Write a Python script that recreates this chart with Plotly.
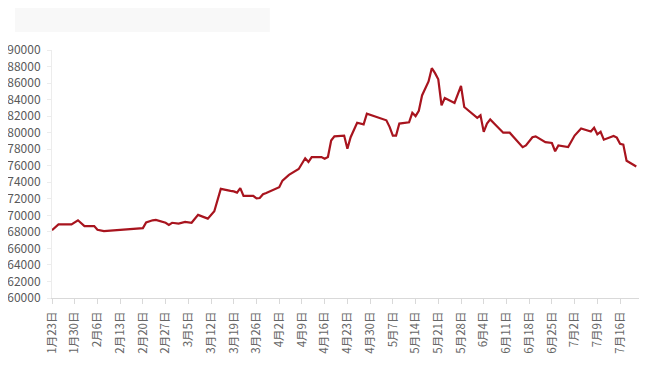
import plotly.graph_objects as go

dates = [
    "2024-01-23", "2024-01-25", "2024-01-29", "2024-01-31", "2024-02-02", "2024-02-05",
    "2024-02-06", "2024-02-08", "2024-02-20", "2024-02-21", "2024-02-23", "2024-02-24",
    "2024-02-27", "2024-02-28", "2024-02-29", "2024-03-02", "2024-03-04", "2024-03-06",
    "2024-03-08", "2024-03-11", "2024-03-13", "2024-03-15", "2024-03-18", "2024-03-19",
    "2024-03-20", "2024-03-21", "2024-03-22", "2024-03-25", "2024-03-26", "2024-03-27",
    "2024-03-28", "2024-03-29", "2024-04-02", "2024-04-03", "2024-04-05", "2024-04-08",
    "2024-04-10", "2024-04-11", "2024-04-12", "2024-04-15", "2024-04-16", "2024-04-17",
    "2024-04-18", "2024-04-19", "2024-04-22", "2024-04-23", "2024-04-24", "2024-04-26",
    "2024-04-28", "2024-04-29", "2024-05-05", "2024-05-06", "2024-05-07", "2024-05-08",
    "2024-05-09", "2024-05-12", "2024-05-13", "2024-05-14", "2024-05-15", "2024-05-16",
    "2024-05-18", "2024-05-19", "2024-05-20", "2024-05-21", "2024-05-22", "2024-05-23",
    "2024-05-26", "2024-05-28", "2024-05-29", "2024-06-02", "2024-06-03", "2024-06-04",
    "2024-06-05", "2024-06-06", "2024-06-10", "2024-06-12", "2024-06-16", "2024-06-17",
    "2024-06-19", "2024-06-20", "2024-06-23", "2024-06-25", "2024-06-26", "2024-06-27",
    "2024-06-30", "2024-07-02", "2024-07-04", "2024-07-07", "2024-07-08", "2024-07-09",
    "2024-07-10", "2024-07-11", "2024-07-14", "2024-07-15", "2024-07-16", "2024-07-17",
    "2024-07-18", "2024-07-21",
]

values = [
    68200, 68900, 68900, 69400, 68700, 68700,
    68250, 68100, 68450, 69150, 69400, 69450,
    69100, 68850, 69100, 69000, 69200, 69100,
    70050, 69600, 70500, 73200, 72950, 72900,
    72750, 73300, 72350, 72350, 72050, 72100,
    72550, 72700, 73400, 74200, 74900, 75600,
    76900, 76450, 77050, 77050, 76850, 77050,
    79050, 79550, 79650, 78050, 79450, 81200,
    81000, 82300, 81500, 80700, 79650, 79650,
    81100, 81250, 82400, 82000, 82650, 84500,
    86200, 87800, 87200, 86450, 83300, 84200,
    83600, 85650, 83100, 81800, 82100, 80100,
    81100, 81600, 80000, 80000, 78250, 78450,
    79450, 79550, 78850, 78750, 77750, 78450,
    78250, 79650, 80500, 80150, 80600, 79800,
    80100, 79150, 79600, 79400, 78650, 78550,
    76600, 75900,
]

y_ticks = list(range(60000, 90001, 2000))

fig = go.Figure()
fig.add_trace(go.Scatter(
    x=dates, y=values, mode="lines",
    line=dict(color="#A8141E", width=2.2),
    hoverinfo="x+y", showlegend=False,
))

fig.add_shape(type="rect", xref="paper", yref="paper",
              x0=-0.063, x1=0.371, y0=1.073, y1=1.169,
              fillcolor="#f8f8f8", line=dict(width=0), layer="below")

fig.update_layout(
    width=640, height=350,
    margin=dict(l=44, r=9, t=42, b=60),
    paper_bgcolor="white", plot_bgcolor="white",
    font=dict(family="Noto Sans CJK SC, sans-serif", color="#595959"),
)

fig.update_xaxes(
    type="date", automargin=False,
    range=["2024-01-23", "2024-07-21 20:00"],
    tick0="2024-01-23", dtick=7 * 86400000,
    tickformat="%-m月%-d日", tickangle=-90,
    tickfont=dict(size=11.5, color="#666666"),
    showgrid=False, zeroline=False,
    showline=True, linecolor="#d9d9d9", linewidth=1,
    ticks="outside", ticklen=5, tickcolor="#d9d9d9",
    ticklabelstandoff=3,
)

fig.update_yaxes(
    range=[60000, 90000], automargin=False,
    tickvals=y_ticks, tickformat="d",
    tickfont=dict(size=12, color="#595959"),
    showgrid=False, zeroline=False,
    showline=True, linecolor="#ececec", linewidth=1,
    ticks="outside", ticklen=4, tickcolor="#ececec",
    ticklabelstandoff=4,
)

fig.write_html("out.html")
